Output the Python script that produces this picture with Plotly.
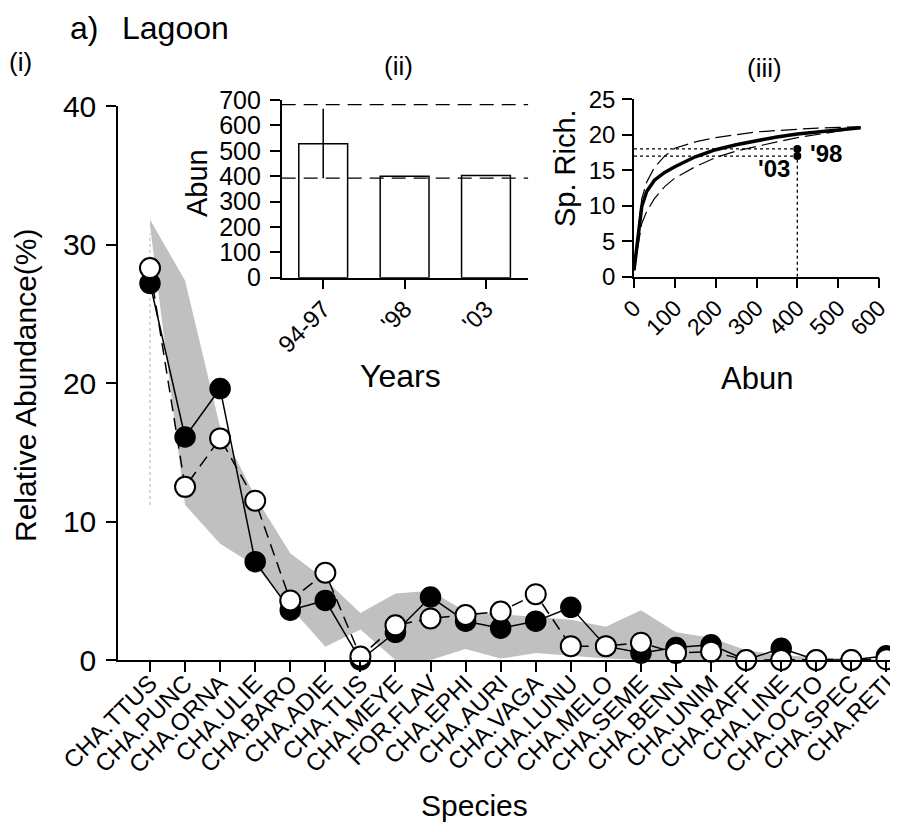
import plotly.graph_objects as go

# page body has an 8px margin, so the figure is 8px smaller and all
# pixel positions below are measured in reference-image pixels.
OFF = 8
W, H = 898 - OFF, 832 - OFF

# ---------------- data ----------------
species = ["CHA.TTUS", "CHA.PUNC", "CHA.ORNA", "CHA.ULIE", "CHA.BARO", "CHA.ADIE",
           "CHA.TLIS", "CHA.MEYE", "FOR.FLAV", "CHA.EPHI", "CHA.AURI", "CHA.VAGA",
           "CHA.LUNU", "CHA.MELO", "CHA.SEME", "CHA.BENN", "CHA.UNIM", "CHA.RAFF",
           "CHA.LINE", "CHA.OCTO", "CHA.SPEC", "CHA.RETI"]
abund_98 = [27.2, 16.1, 19.6, 7.1, 3.6, 4.3, 0.0, 2.0, 4.55, 2.8, 2.3, 2.8,
            3.8, 1.0, 0.5, 0.9, 1.1, 0.0, 0.85, 0.0, 0.0, 0.3]
abund_03 = [28.3, 12.5, 16.0, 11.5, 4.3, 6.3, 0.25, 2.5, 3.0, 3.25, 3.5, 4.75,
            1.0, 1.0, 1.25, 0.5, 0.6, 0.0, 0.0, 0.0, 0.0, 0.05]
band_upper = [31.8, 27.4, 16.8, 11.8, 7.7, 5.8, 3.4, 4.8, 5.0, 3.5, 3.3, 3.1,
              2.9, 2.4, 3.6, 2.0, 1.6, 0.7, 0.35, 0.2, 0.1, 0.05]
band_lower = [31.4, 11.2, 8.4, 6.8, 3.8, 0.95, 2.2, 0.0, 0.0, 0.8, 0.1, 0.5,
              0.3, 0.1, 0.0, 0.0, 0.0, 0.0, 0.0, 0.0, 0.0, 0.0]
ttus_range = [11.2, 30.8]

years = ["94-97", "'98", "'03"]
total_abun = [528, 400, 403]
abun_err_plus = [138, 0, 0]
abun_err_minus = [136, 0, 0]
abun_limits = [682, 392]

rare_x = [0, 19, 31, 50, 75, 100, 150, 200, 250, 300, 350, 400, 450, 500, 555]
rare_mean = [0.9, 9.9, 12.0, 13.6, 14.7, 15.5, 16.9, 17.9, 18.6, 19.2, 19.7, 20.1, 20.4, 20.7, 21.0]
rare_upper = [0.9, 11.0, 13.3, 15.4, 17.0, 18.1, 19.0, 19.6, 20.0, 20.4, 20.6, 20.8, 20.95, 21.05, 21.1]
rare_lower = [0.9, 7.5, 9.2, 11.0, 12.7, 13.9, 15.5, 16.8, 17.7, 18.4, 19.0, 19.6, 20.1, 20.5, 21.0]
obs_abun = [400, 400]
obs_rich = [18, 17]
obs_labels = ["'98", "'03"]

FONT = "Liberation Sans, Arial, sans-serif"

def px_x(p):
    return (p - OFF) / W

def px_y(p):
    return 1 - (p - OFF) / H

fig = go.Figure()

# ---------------- main panel (i) ----------------
fig.add_trace(go.Scatter(
    x=species + species[::-1], y=band_upper + band_lower[::-1],
    fill="toself", fillcolor="#c0c0c0", line=dict(width=0), mode="lines",
    hoverinfo="skip", showlegend=False, xaxis="x", yaxis="y"))
fig.add_trace(go.Scatter(
    x=[species[0], species[0]], y=ttus_range, mode="lines",
    line=dict(color="#b0b0b0", width=1, dash="dot"), showlegend=False,
    xaxis="x", yaxis="y"))
fig.add_trace(go.Scatter(
    x=species, y=abund_98, mode="lines+markers",
    line=dict(color="black", width=1.5),
    marker=dict(symbol="circle", size=20, color="black", line=dict(color="black", width=1.5)),
    showlegend=False, cliponaxis=False, xaxis="x", yaxis="y"))
fig.add_trace(go.Scatter(
    x=species, y=abund_03, mode="lines+markers",
    line=dict(color="black", width=1.5, dash="12px,7px"),
    marker=dict(symbol="circle", size=20, color="white", line=dict(color="black", width=2)),
    showlegend=False, cliponaxis=False, xaxis="x", yaxis="y"))

# ---------------- inset (ii) ----------------
for yv in abun_limits:
    fig.add_trace(go.Scatter(
        x=[-0.51, 2.52], y=[yv, yv], mode="lines",
        line=dict(color="black", width=1.3, dash="14px,8px"),
        showlegend=False, xaxis="x2", yaxis="y2"))
fig.add_trace(go.Bar(
    x=[0, 1, 2], y=total_abun, width=0.6,
    marker=dict(color="white", line=dict(color="black", width=1.5)),
    error_y=dict(type="data", array=abun_err_plus, arrayminus=abun_err_minus,
                 color="black", thickness=1.5, width=0),
    showlegend=False, xaxis="x2", yaxis="y2"))

# ---------------- inset (iii) ----------------
fig.add_trace(go.Scatter(x=rare_x, y=rare_upper, mode="lines",
                         line=dict(color="black", width=1.2, dash="16px,6px"),
                         showlegend=False, xaxis="x3", yaxis="y3"))
fig.add_trace(go.Scatter(x=rare_x, y=rare_lower, mode="lines",
                         line=dict(color="black", width=1.2, dash="16px,6px"),
                         showlegend=False, xaxis="x3", yaxis="y3"))
fig.add_trace(go.Scatter(x=rare_x, y=rare_mean, mode="lines",
                         line=dict(color="black", width=3.5),
                         showlegend=False, xaxis="x3", yaxis="y3"))
for r in obs_rich:
    fig.add_trace(go.Scatter(x=[0, obs_abun[0]], y=[r, r], mode="lines",
                             line=dict(color="black", width=1.3, dash="dot"),
                             showlegend=False, xaxis="x3", yaxis="y3"))
fig.add_trace(go.Scatter(x=[obs_abun[0], obs_abun[0]], y=[0, min(obs_rich)], mode="lines",
                         line=dict(color="black", width=1.3, dash="dot"),
                         showlegend=False, xaxis="x3", yaxis="y3"))
fig.add_trace(go.Scatter(x=obs_abun, y=obs_rich, mode="markers",
                         marker=dict(color="black", size=8),
                         showlegend=False, xaxis="x3", yaxis="y3"))

# ---------------- axes ----------------
axis_common = dict(showgrid=False, zeroline=False, showline=True, linecolor="black",
                   linewidth=1.5, ticks="outside", ticklen=10, tickwidth=1.5,
                   tickcolor="black", automargin=False)

fig.update_layout(
    width=W, height=H, margin=dict(l=0, r=0, t=0, b=0, pad=0, autoexpand=False),
    paper_bgcolor="white", plot_bgcolor="rgba(0,0,0,0)",
    font=dict(family=FONT, color="black"),
    xaxis=dict(**axis_common, domain=[px_x(118), 1.0], type="category",
               categoryorder="array", categoryarray=species,
               range=[-0.912, 21.33], tickangle=-45, ticklabelstandoff=-12,
               tickfont=dict(size=24), anchor="y"),
    yaxis=dict(**axis_common, domain=[px_y(660), px_y(106)], range=[0, 40],
               tickvals=[0, 10, 20, 30, 40], tickfont=dict(size=30),
               ticklabelstandoff=4, anchor="x"),
    xaxis2=dict(**axis_common, domain=[px_x(281.7), px_x(528.3)], range=[-0.51, 2.52],
                tickvals=[0, 1, 2], ticktext=years, tickangle=-45, ticklabelstandoff=-4,
                tickfont=dict(size=24), anchor="y2"),
    yaxis2=dict(**axis_common, domain=[px_y(277.7), px_y(100)], range=[0, 700],
                tickvals=[0, 100, 200, 300, 400, 500, 600, 700],
                tickfont=dict(size=25), ticklabelstandoff=4, anchor="x2"),
    xaxis3=dict(**axis_common, domain=[px_x(634), px_x(879)], range=[0, 600],
                tickvals=[0, 100, 200, 300, 400, 500, 600], tickangle=-45, ticklabelstandoff=-3,
                tickfont=dict(size=23), anchor="y3"),
    yaxis3=dict(**axis_common, domain=[px_y(276.7), px_y(99.3)], range=[0, 25],
                tickvals=[0, 5, 10, 15, 20, 25], tickfont=dict(size=24),
                ticklabelstandoff=2, anchor="x3"),
    bargap=0.4,
)

def ann(text, x, y, size, angle=0, xanchor="center", yanchor="middle", bold=False, ref="paper", xr=None, yr=None):
    d = dict(text=("<b>%s</b>" % text) if bold else text, showarrow=False,
             font=dict(size=size, family=FONT, color="black"),
             textangle=angle, xanchor=xanchor, yanchor=yanchor)
    if ref == "paper":
        d.update(x=px_x(x), y=px_y(y), xref="paper", yref="paper")
    else:
        d.update(x=x, y=y, xref=xr, yref=yr)
    fig.add_annotation(**d)

ann("a)", 68, 28, 32, xanchor="left")
ann("Lagoon", 120, 28, 32, xanchor="left")
ann("(i)", 20, 62, 26)
ann("(ii)", 398, 66, 26)
ann("(iii)", 764, 68, 26)
ann("Relative Abundance(%)", 26, 385, 30, angle=-90)
ann("Species", 474, 805, 30)
ann("Abun", 197, 183, 29, angle=-90)
ann("Years", 400, 376, 32)
ann("Sp. Rich.", 565, 168, 29, angle=-90)
ann("Abun", 757, 378, 31)
ann(obs_labels[0], 425, 17.4, 24, xanchor="left", bold=True, ref="data", xr="x3", yr="y3")
ann(obs_labels[1], 388, 15.3, 24, xanchor="right", bold=True, ref="data", xr="x3", yr="y3")

fig.write_html("out.html")
